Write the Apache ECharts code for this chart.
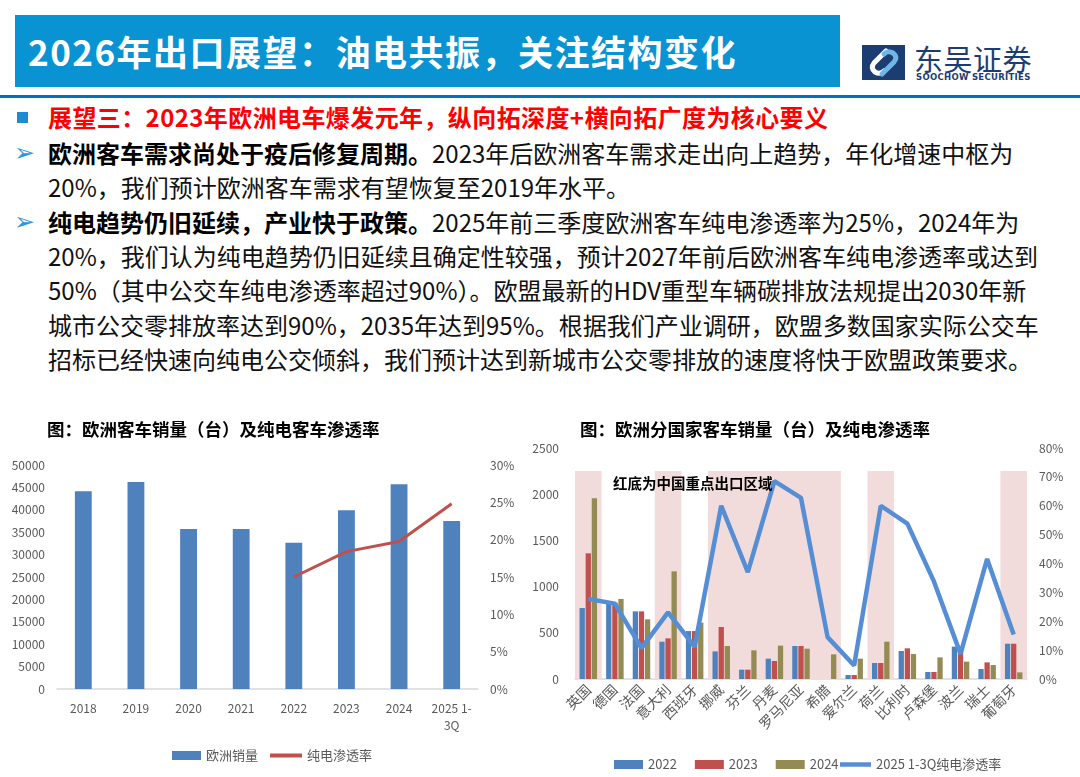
<!DOCTYPE html>
<html><head><meta charset="utf-8">
<script src="https://cdn.jsdelivr.net/npm/echarts@6/dist/echarts.min.js"></script>
<style>
body{margin:0;width:1080px;height:777px;background:#fff;position:relative;overflow:hidden;font-family:"Noto Sans CJK SC","Noto Sans",sans-serif;}
.abs{position:absolute;white-space:nowrap;}
.ln{position:absolute;left:48px;white-space:nowrap;font-size:24px;line-height:34px;height:34px;color:#111;}
.ln b{color:#000;font-weight:700;}
.arrow{position:absolute;left:14px;font-size:25px;line-height:34px;color:#2a97e0;font-family:"DejaVu Sans",sans-serif;}
</style></head><body>
<div class="abs" style="left:15px;top:15px;width:825px;height:72px;background:#0a93d2;"></div>
<div class="abs" style="left:28px;top:15px;height:72px;line-height:72px;font-size:35px;font-weight:700;color:#fff;letter-spacing:1.5px;">2026年出口展望：油电共振，关注结构变化</div>
<div class="abs" style="left:0;top:95px;width:1080px;height:3px;background:#0070c0;"></div>
<svg class="abs" style="left:862px;top:45px;" width="43" height="35" viewBox="0 0 43 35">
<rect width="43" height="35" fill="#1c3d72"/>
<path d="M24 6 L12 18 Q8 23 13 27 Q18 30 22 26" fill="none" stroke="#ffffff" stroke-width="5" stroke-linecap="round"/>
<path d="M20 29 L32 17 Q36 12 31 8 Q26 5 22 9" fill="none" stroke="#6fb7e8" stroke-width="5" stroke-linecap="round"/>
</svg>
<div class="abs" style="left:914px;top:42px;font-size:29px;line-height:32px;color:#1c3d72;letter-spacing:0.5px;">东吴证券</div>
<div class="abs" style="left:916px;top:72px;font-size:8.5px;line-height:10px;font-weight:700;color:#1c3d72;letter-spacing:0.3px;font-family:'DejaVu Sans',sans-serif;">SOOCHOW SECURITIES</div>

<div class="abs" style="left:17px;top:112px;width:11px;height:11px;background:#1e8bd0;"></div>
<div class="ln" style="top:100px;color:#ff0000;font-weight:700;letter-spacing:0.4px;">展望三：2023年欧洲电车爆发元年，纵向拓深度+横向拓广度为核心要义</div>
<div class="arrow" style="top:136px;">➢</div>
<div class="ln" style="top:136px;"><b>欧洲客车需求尚处于疫后修复周期。</b>2023年后欧洲客车需求走出向上趋势，年化增速中枢为</div>
<div class="ln" style="top:170px;">20%，我们预计欧洲客车需求有望恢复至2019年水平。</div>
<div class="arrow" style="top:205px;">➢</div>
<div class="ln" style="top:205px;"><b>纯电趋势仍旧延续，产业快于政策。</b>2025年前三季度欧洲客车纯电渗透率为25%，2024年为</div>
<div class="ln" style="top:239px;">20%，我们认为纯电趋势仍旧延续且确定性较强，预计2027年前后欧洲客车纯电渗透率或达到</div>
<div class="ln" style="top:273px;">50%（其中公交车纯电渗透率超过90%）。欧盟最新的HDV重型车辆碳排放法规提出2030年新</div>
<div class="ln" style="top:308px;">城市公交零排放率达到90%，2035年达到95%。根据我们产业调研，欧盟多数国家实际公交车</div>
<div class="ln" style="top:342px;">招标已经快速向纯电公交倾斜，我们预计达到新城市公交零排放的速度将快于欧盟政策要求。</div>

<div id="c1" class="abs" style="left:0;top:400px;width:540px;height:377px;"></div>
<div id="c2" class="abs" style="left:520px;top:400px;width:560px;height:377px;"></div>
<script>
// ---- Left chart data ----
const yearCats = ['2018','2019','2020','2021','2022','2023','2024','2025 1-\n3Q'];
const euSales = [44130, 46210, 35740, 35740, 32620, 39900, 45690, 37520];
const bevRateEU = [null, null, null, null, 0.150, 0.184, 0.1975, 0.248];
const leftTicksMax = 50000, leftTicksStep = 5000;
const leftRateMax = 0.30, leftRateStep = 0.05;

// ---- Right chart data ----
const countries = ['英国','德国','法国','意大利','西班牙','挪威','芬兰','丹麦','罗马尼亚','希腊','爱尔兰','荷兰','比利时','卢森堡','波兰','瑞士','葡萄牙'];
const sales2022 = [768, 826, 732, 404, 519, 299, 101, 220, 357, 0, 43, 173, 303, 76, 350, 108, 382];
const sales2023 = [1360, 826, 732, 440, 519, 563, 101, 195, 357, 0, 43, 173, 332, 76, 320, 180, 382];
const sales2024 = [1955, 866, 646, 1165, 610, 357, 310, 361, 328, 267, 220, 404, 270, 234, 188, 151, 72];
const bevRate2025 = [0.277, 0.261, 0.107, 0.231, 0.111, 0.600, 0.370, 0.685, 0.627, 0.145, 0.047, 0.600, 0.538, 0.338, 0.087, 0.416, 0.154];
const keyRegion = [1, 0, 0, 1, 0, 1, 1, 1, 1, 1, 0, 1, 0, 0, 0, 0, 1];
const bandHeight = 2250;

// contiguous runs of highlighted categories: [startIndex, endIndex]
const bandRuns = [];
keyRegion.forEach((f, i) => {
  if (!f) return;
  const last = bandRuns[bandRuns.length - 1];
  if (last && last[1] === i - 1) last[1] = i; else bandRuns.push([i, i]);
});

const FONT = '"Noto Sans CJK SC","Noto Sans",sans-serif';
const GRAY = '#595959';
const pct = v => Math.round(v * 100) + '%';
const plain = v => String(v);
const legendText = { color: GRAY, fontSize: 13, fontFamily: FONT };

const c1 = echarts.init(document.getElementById('c1'));
c1.setOption({
  animation: false,
  textStyle: { fontFamily: FONT },
  title: { text: '图：欧洲客车销量（台）及纯电客车渗透率', left: 42, top: 16,
    textStyle: { fontSize: 17.5, fontWeight: 'bold', color: '#000', fontFamily: FONT } },
  grid: { left: 57, right: 62, top: 65, bottom: 88 },
  legend: [
    { left: 167, top: 344, itemWidth: 29, itemHeight: 9, textStyle: legendText,
      data: [{ name: '欧洲销量', icon: 'rect' }] },
    { left: 265, top: 344, itemWidth: 32, itemHeight: 4, textStyle: legendText,
      data: [{ name: '纯电渗透率', icon: 'rect' }] }
  ],
  xAxis: { type: 'category', data: yearCats,
    axisLine: { lineStyle: { color: '#d9d9d9', width: 1.5 } }, axisTick: { show: false },
    axisLabel: { color: GRAY, fontSize: 12, margin: 11, lineHeight: 17 } },
  yAxis: [
    { type: 'value', min: 0, max: leftTicksMax, interval: leftTicksStep, splitLine: { show: false },
      axisLabel: { color: GRAY, fontSize: 12, margin: 12, formatter: plain } },
    { type: 'value', min: 0, max: leftRateMax, interval: leftRateStep, splitLine: { show: false },
      axisLabel: { color: GRAY, fontSize: 12, margin: 12, formatter: pct } }
  ],
  series: [
    { name: '欧洲销量', type: 'bar', data: euSales, barWidth: '32%', itemStyle: { color: '#4f81bd' } },
    { name: '纯电渗透率', type: 'line', yAxisIndex: 1, data: bevRateEU, symbol: 'none',
      lineStyle: { color: '#c0504d', width: 3 }, itemStyle: { color: '#c0504d' } }
  ]
});

const c2 = echarts.init(document.getElementById('c2'));
c2.setOption({
  animation: false,
  textStyle: { fontFamily: FONT },
  title: { text: '图：欧洲分国家客车销量（台）及纯电渗透率', left: 55, top: 16,
    textStyle: { fontSize: 17.5, fontWeight: 'bold', color: '#000', fontFamily: FONT } },
  graphic: [{ type: 'text', left: 93, top: 76, z: 100, zlevel: 0,
    style: { text: '红底为中国重点出口区域', fill: '#000', font: 'bold 14.5px ' + FONT } }],
  grid: { left: 55, right: 53, top: 48, bottom: 98 },
  legend: [
    { left: 89, top: 353, itemGap: 18, itemWidth: 29, itemHeight: 9, textStyle: legendText,
      data: [{ name: '2022', icon: 'rect' }, { name: '2023', icon: 'rect' }, { name: '2024', icon: 'rect' }] },
    { left: 315, top: 353, itemWidth: 31, itemHeight: 4.5, textStyle: legendText,
      data: [{ name: '2025 1-3Q纯电渗透率', icon: 'rect' }] }
  ],
  xAxis: { type: 'category', data: countries,
      axisLine: { lineStyle: { color: '#d9d9d9', width: 1.5 } }, axisTick: { show: false },
      axisLabel: { color: GRAY, fontSize: 14, rotate: 45, margin: 8, interval: 0 } },
  yAxis: [
    { type: 'value', min: 0, max: 2500, interval: 500, splitLine: { show: false },
      axisLabel: { color: GRAY, fontSize: 12, margin: 16, formatter: plain } },
    { type: 'value', min: 0, max: 0.8, interval: 0.1, splitLine: { show: false },
      axisLabel: { color: GRAY, fontSize: 12, margin: 12, formatter: pct } }
  ],
  series: [
    { name: 'band', type: 'custom', silent: true, z: 1, data: bandRuns,
      encode: { x: [0, 1] },
      renderItem: function (params, api) {
        const s = api.value(0), e = api.value(1);
        const bw = api.size([1, 0])[0];
        const pTop = api.coord([s, bandHeight]);
        const pEnd = api.coord([e, 0]);
        return { type: 'rect',
          shape: { x: pTop[0] - bw / 2, y: pTop[1], width: pEnd[0] - pTop[0] + bw, height: pEnd[1] - pTop[1] },
          style: { fill: '#f2dcdb' } };
      } },
    { name: '2022', type: 'bar', data: sales2022, barWidth: 5.3, barGap: '15%', z: 2, itemStyle: { color: '#4f81bd' } },
    { name: '2023', type: 'bar', data: sales2023, barWidth: 5.3, barGap: '15%', z: 2, itemStyle: { color: '#c0504d' } },
    { name: '2024', type: 'bar', data: sales2024, barWidth: 5.3, barGap: '15%', z: 2, itemStyle: { color: '#948a54' } },
    { name: '2025 1-3Q纯电渗透率', type: 'line', yAxisIndex: 1, data: bevRate2025, symbol: 'none', z: 3,
      lineStyle: { color: '#558ed5', width: 4.5 }, itemStyle: { color: '#558ed5' } }
  ]
});
</script>
</body></html>
